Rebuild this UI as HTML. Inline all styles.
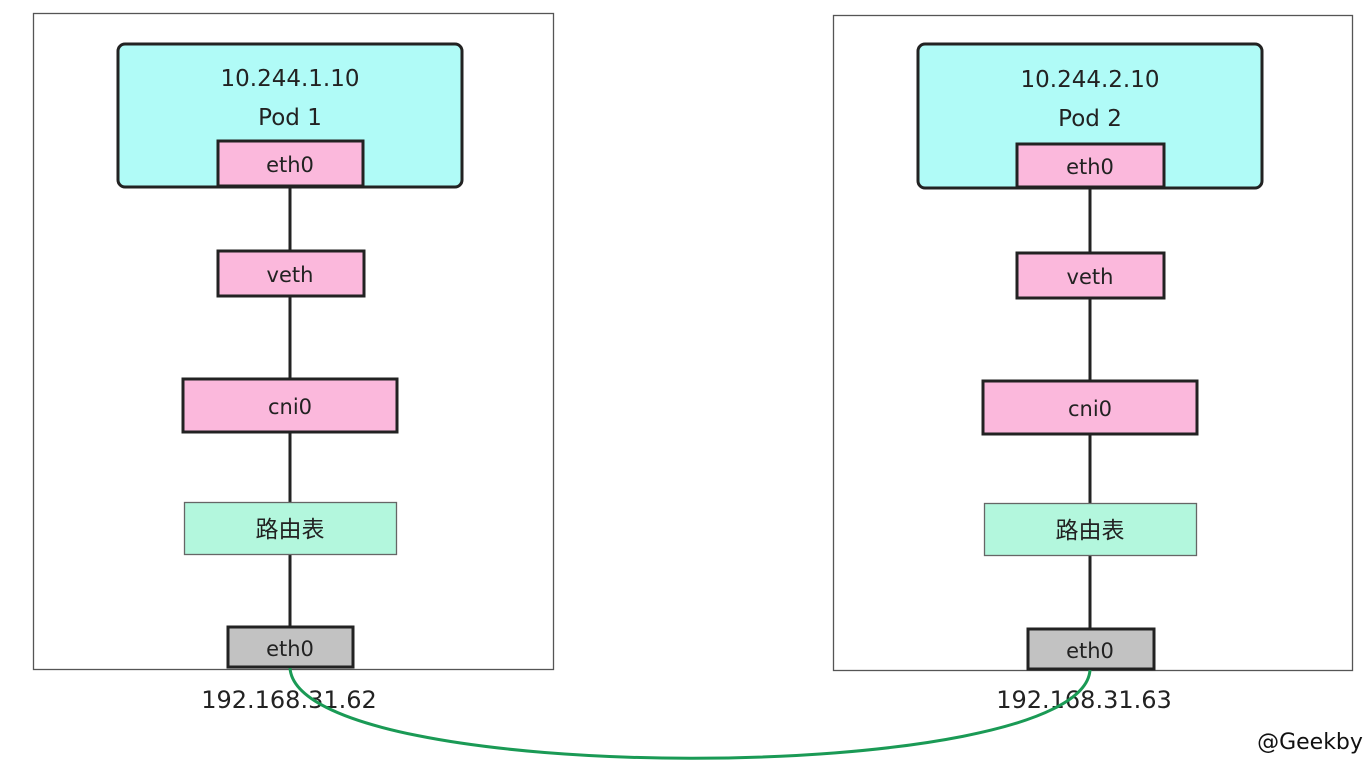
<!DOCTYPE html>
<html><head><meta charset="utf-8"><style>
html,body{margin:0;padding:0;background:#fff;}
svg text{font-family:"DejaVu Sans","Noto Sans CJK SC",sans-serif;fill:#222;text-anchor:middle;}
</style></head><body>
<svg width="1372" height="764" xmlns="http://www.w3.org/2000/svg">
<rect width="1372" height="764" fill="#fff"/>
<g id="L">
<rect x="33.5" y="13.5" width="520" height="656" fill="#fff" stroke="#555" stroke-width="1.3"/>
<line x1="290" y1="186" x2="290" y2="628" stroke="#222" stroke-width="3"/>
<rect x="118" y="44" width="344" height="143" rx="7" fill="#b0fbf7" stroke="#222" stroke-width="3"/>
<text x="290" y="86" font-size="23">10.244.1.10</text>
<text x="290" y="125" font-size="23">Pod 1</text>
<rect x="218" y="141" width="145" height="45" fill="#fbb8dc" stroke="#222" stroke-width="3"/>
<text x="290" y="172" font-size="21">eth0</text>
<rect x="218" y="251" width="146" height="45" fill="#fbb8dc" stroke="#222" stroke-width="3"/>
<text x="290" y="282" font-size="21">veth</text>
<rect x="183" y="379" width="214" height="53" fill="#fbb8dc" stroke="#222" stroke-width="3"/>
<text x="290" y="414" font-size="21">cni0</text>
<rect x="184.5" y="502.5" width="212" height="52" fill="#b3f7dd" stroke="#666" stroke-width="1.3"/>
<text x="290" y="537" font-size="23">路由表</text>
<rect x="228" y="627" width="125" height="40" fill="#c2c2c2" stroke="#222" stroke-width="3"/>
<text x="290" y="656" font-size="21">eth0</text>
<text x="289" y="708" font-size="24">192.168.31.62</text>
</g>
<g transform="translate(800,2)">
<rect x="33.5" y="13.5" width="519" height="655" fill="#fff" stroke="#555" stroke-width="1.3"/>
<line x1="290" y1="186" x2="290" y2="628" stroke="#222" stroke-width="3"/>
<rect x="118" y="42" width="344" height="144" rx="7" fill="#b0fbf7" stroke="#222" stroke-width="3"/>
<text x="290" y="85" font-size="23">10.244.2.10</text>
<text x="290" y="124" font-size="23">Pod 2</text>
<rect x="217" y="142" width="147" height="43" fill="#fbb8dc" stroke="#222" stroke-width="3"/>
<text x="290" y="172" font-size="21">eth0</text>
<rect x="217" y="251" width="147" height="45" fill="#fbb8dc" stroke="#222" stroke-width="3"/>
<text x="290" y="282" font-size="21">veth</text>
<rect x="183" y="379" width="214" height="53" fill="#fbb8dc" stroke="#222" stroke-width="3"/>
<text x="290" y="414" font-size="21">cni0</text>
<rect x="184.5" y="501.5" width="212" height="52" fill="#b3f7dd" stroke="#666" stroke-width="1.3"/>
<text x="290" y="536" font-size="23">路由表</text>
<rect x="228" y="627" width="126" height="40" fill="#c2c2c2" stroke="#222" stroke-width="3"/>
<text x="290" y="656" font-size="21">eth0</text>
<text x="284" y="706" font-size="24">192.168.31.63</text>
</g>
<path d="M290,668 C298,788 1082,788 1090,670" fill="none" stroke="#1a9a55" stroke-width="3"/>
<text x="1310" y="749" font-size="22" style="fill:#111">@Geekby</text>
</svg>
</body></html>
